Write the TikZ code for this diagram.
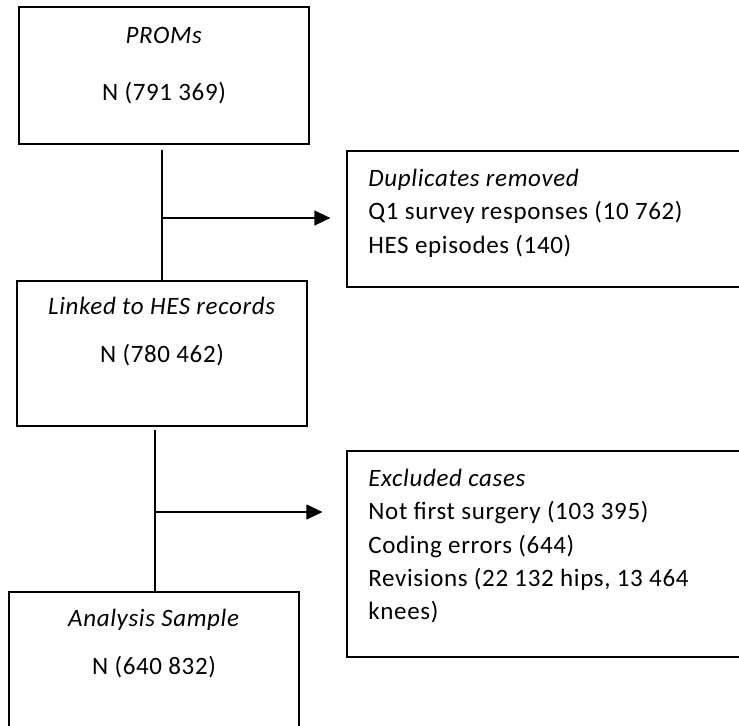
\documentclass[tikz,border=0pt]{standalone}
\usepackage{fontspec}
\setmainfont{Carlito}[LetterSpace=2.6]
\usetikzlibrary{positioning, arrows.meta}

\begin{document}
\begin{tikzpicture}[x=0.5pt, y=-0.5pt,
  box/.style={rectangle, draw=black, line width=0.6pt, inner sep=0pt},
  txt/.style={inner sep=0pt, font=\fontsize{12.5}{16.6}\selectfont},
  link/.style={line width=0.6pt},
  arrow/.style={-{Triangle[length=8pt, width=7.5pt]}, line width=0.6pt}
]
\clip (0,0) rectangle (739,725);

% main stream
\node[box, minimum width=145pt, minimum height=68.5pt] (proms) at (164,75.5) {};
\node[box, minimum width=145pt, minimum height=72.5pt] (linked) at (162,353.5) {};
\node[box, minimum width=145pt, minimum height=71pt] (sample) at (154,663) {};

% side boxes
\node[box, minimum width=200pt, minimum height=68pt] (dup) at (547,219) {};
\node[box, minimum width=200pt, minimum height=103pt] (excl) at (547,554) {};

% texts
\node[txt, anchor=base] (promsHead) at (164,43) {\textit{PROMs}};
\node[txt, anchor=base] (promsN) at (164,100) {N (791 369)};
\node[txt, anchor=base] (linkedHead) at (162,314) {\textit{Linked to HES records}};
\node[txt, anchor=base] (linkedN) at (162,362) {N (780 462)};
\node[txt, anchor=base] (sampleHead) at (154,626) {\textit{Analysis Sample}};
\node[txt, anchor=base] (sampleN) at (154,674) {N (640 832)};

\node[txt, anchor=north west, align=left] (dupText) at (368,169)
  {\textit{Duplicates removed}\\Q1 survey responses (10 762)\\HES episodes (140)};
\node[txt, anchor=north west, align=left] (exclText) at (368,469)
  {\textit{Excluded cases}\\Not first surgery (103 395)\\Coding errors (644)\\Revisions (22 132 hips, 13 464\\knees)};

% connectors
\coordinate (fork1) at (162,218);
\coordinate (fork2) at (155,512);
\draw[link] ([yshift=-2.5pt]proms.south -| fork1) -- (fork1 |- linked.north);
\draw[arrow, shorten >=8pt] (fork1) -- (fork1 -| dup.west);
\draw[link] ([yshift=-1.5pt]linked.south -| fork2) -- (fork2 |- sample.north);
\draw[arrow, shorten >=12pt] (fork2) -- (fork2 -| excl.west);
\end{tikzpicture}
\end{document}
